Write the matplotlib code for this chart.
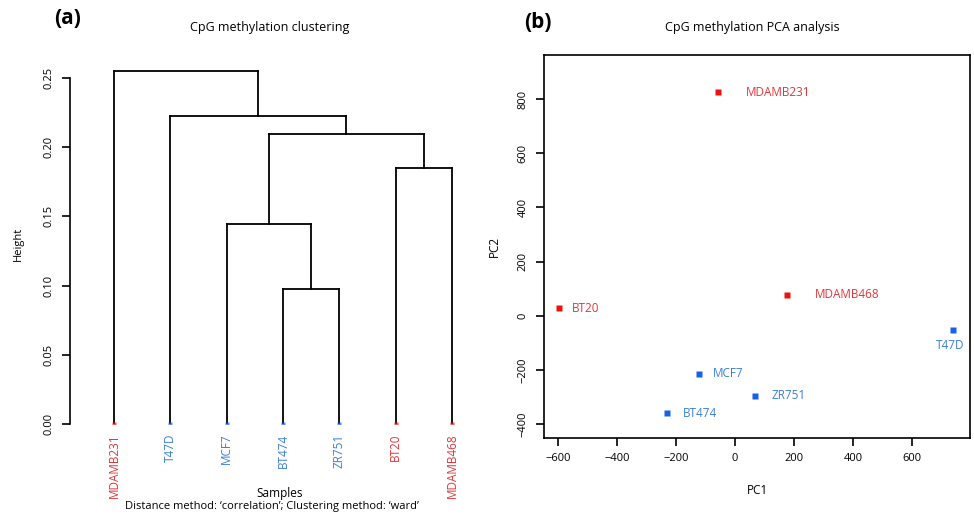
import matplotlib
matplotlib.use("Agg")
import matplotlib.pyplot as plt
import numpy as np

plt.rcParams['font.family'] = ['Open Sans', 'DejaVu Sans']

RED_TXT = '#e0363a'
RED_MK = '#ee1111'
BLUE_TXT = '#3a7fd8'
BLUE_MK = '#1463e6'

# ---- hierarchical clustering (leaf order left to right) ----
leaf_names = ['MDAMB231', 'T47D', 'MCF7', 'BT474', 'ZR751', 'BT20', 'MDAMB468']
leaf_groups = ['red', 'blue', 'blue', 'blue', 'blue', 'red', 'red']
# merges: (left node, right node, height); nodes 0..6 are leaves, 7.. are merges
merges = [
    (3, 4, 0.0975),   # BT474 + ZR751
    (2, 7, 0.1445),   # MCF7 + (BT474, ZR751)
    (5, 6, 0.185),    # BT20 + MDAMB468
    (8, 9, 0.2095),
    (1, 10, 0.2225),  # T47D + rest
    (0, 11, 0.255),   # MDAMB231 + rest
]
height_ticks = [0.00, 0.05, 0.10, 0.15, 0.20, 0.25]

# ---- PCA scores ----
pca_names = ['MDAMB231', 'BT20', 'MDAMB468', 'T47D', 'MCF7', 'ZR751', 'BT474']
pca_groups = ['red', 'red', 'red', 'blue', 'blue', 'blue', 'blue']
pc1 = [-58, -595, 176, 737, -123, 68, -230]
pc2 = [825, 27, 78, -54, -215, -295, -360]
pc1_ticks = [-600, -400, -200, 0, 200, 400, 600]
pc2_ticks = [-400, -200, 0, 200, 400, 600, 800]

txt_col = {'red': RED_TXT, 'blue': BLUE_TXT}
mk_col = {'red': RED_MK, 'blue': BLUE_MK}

W, H = 974, 515
fig = plt.figure(figsize=(W / 100, H / 100), dpi=100)

# ================= (a) dendrogram =================
axA = fig.add_axes([70 / W, (515 - 424) / H, 426 / W, (424 - 64) / H])
axA.set_xlim(0.219, 7.781)
axA.set_ylim(0, 0.26)

n = len(leaf_names)
xpos = {i: float(i + 1) for i in range(n)}
ypos = {i: 0.0 for i in range(n)}
for k, (a, b, h) in enumerate(merges):
    node = n + k
    for c in (a, b):
        axA.plot([xpos[c], xpos[c]], [ypos[c], h], color='black', lw=1.3,
                 solid_capstyle='projecting')
    axA.plot([xpos[a], xpos[b]], [h, h], color='black', lw=1.3,
             solid_capstyle='projecting')
    xpos[node] = (xpos[a] + xpos[b]) / 2
    ypos[node] = h

for i, (name, g) in enumerate(zip(leaf_names, leaf_groups)):
    axA.plot(i + 1, 0, marker='s', ms=2.5, color=mk_col[g], mec='none',
             alpha=0.7, zorder=3)
    axA.annotate(name, (i + 1, 0), xytext=(0, -7), textcoords='offset points',
                 rotation=90, ha='center', va='top', color=txt_col[g],
                 fontsize=8.5)

for s in ['top', 'right', 'bottom']:
    axA.spines[s].set_visible(False)
axA.spines['left'].set_bounds(0, 0.25)
axA.spines['left'].set_linewidth(1.2)
axA.set_xticks([])
axA.set_yticks(height_ticks)
axA.set_yticklabels([f'{t:.2f}' for t in height_ticks], rotation=90,
                    va='center', fontsize=8)
axA.tick_params(axis='y', length=6, width=1.2, pad=5)
axA.set_ylabel('Height', fontsize=8, labelpad=14)

fig.text(270 / W, 1 - 28 / H, 'CpG methylation clustering', ha='center',
         va='center', fontsize=9)
fig.text(68 / W, 1 - 18 / H, '(a)', ha='center', va='center', fontsize=15,
         fontweight='bold')
fig.text(280 / W, 1 - 493 / H, 'Samples', ha='center', va='center',
         fontsize=8.5)
fig.text(272 / W, 1 - 507 / H,
         'Distance method: \u2018correlation\u2019; Clustering method: \u2018ward\u2019',
         ha='center', va='center', fontsize=8)

# ================= (b) PCA =================
axB = fig.add_axes([544 / W, (515 - 438) / H, (970 - 544) / W, (438 - 55) / H])
axB.set_xlim(-647, 795)
axB.set_ylim(-452, 963)

label_offsets = {
    'MDAMB231': (20, 0, 'left', 'center'),
    'MDAMB468': (20, 0, 'left', 'center'),
    'BT20': (9, 0, 'left', 'center'),
    'MCF7': (10, 0, 'left', 'center'),
    'ZR751': (12, 0, 'left', 'center'),
    'BT474': (11, 0, 'left', 'center'),
    'T47D': (-2, -6, 'center', 'top'),
}
for name, g, x, y in zip(pca_names, pca_groups, pc1, pc2):
    axB.plot(x, y, marker='s', ms=4.5, color=mk_col[g], mec='none', zorder=3)
    dx, dy, ha, va = label_offsets[name]
    axB.annotate(name, (x, y), xytext=(dx, dy), textcoords='offset points',
                 ha=ha, va=va, color=txt_col[g], fontsize=8.5)

for s in axB.spines.values():
    s.set_linewidth(1.2)
axB.set_xticks(pc1_ticks)
axB.set_yticks(pc2_ticks)
axB.set_xticklabels([f'{t}'.replace('-', '\u2212') for t in pc1_ticks],
                    fontsize=8)
axB.set_yticklabels([f'{t}'.replace('-', '\u2212') for t in pc2_ticks],
                    rotation=90, va='center', fontsize=8)
axB.tick_params(length=6, width=1.2, pad=5)
axB.set_xlabel('PC1', fontsize=8.5, labelpad=14)
axB.set_ylabel('PC2', fontsize=8.5, labelpad=12)

fig.text(752 / W, 1 - 27 / H, 'CpG methylation PCA analysis', ha='center',
         va='center', fontsize=9)
fig.text(538 / W, 1 - 22 / H, '(b)', ha='center', va='center', fontsize=15,
         fontweight='bold')

fig.savefig('out.png', dpi=100)
